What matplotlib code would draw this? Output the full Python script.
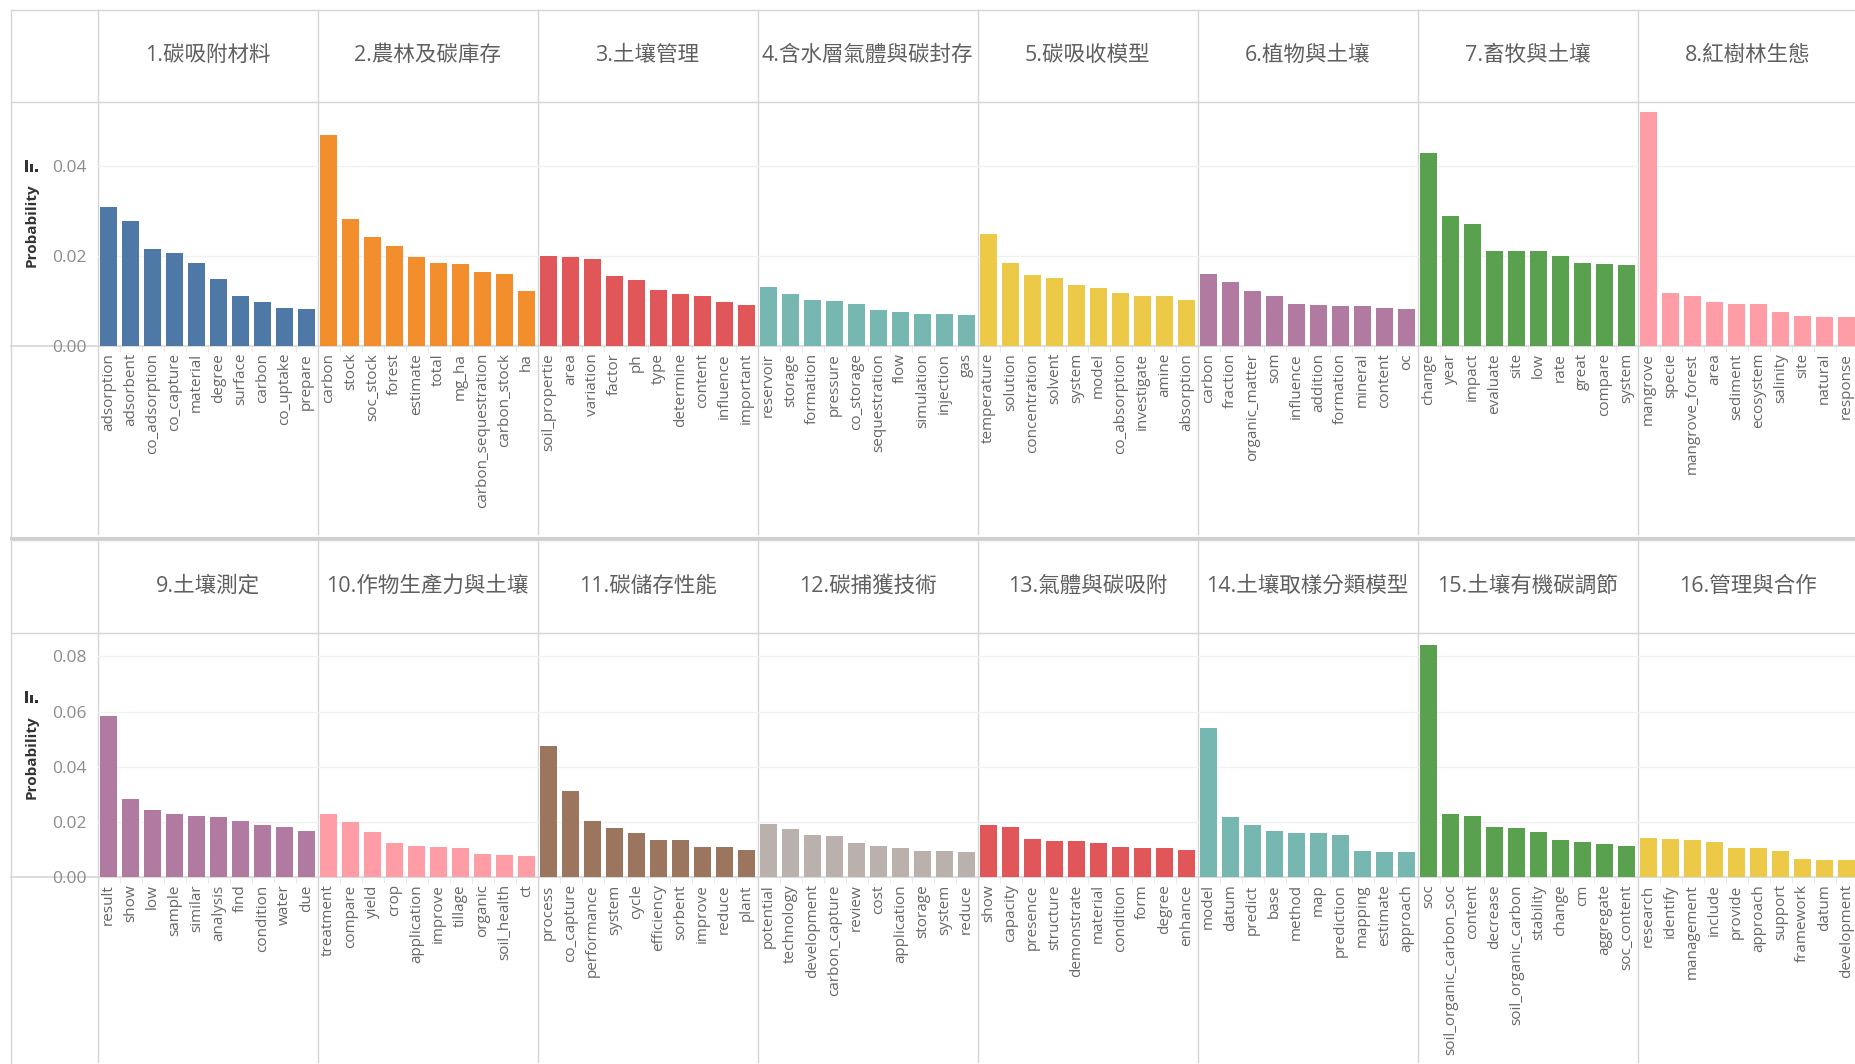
import matplotlib
matplotlib.use("Agg")
import matplotlib.pyplot as plt
from matplotlib.lines import Line2D
from matplotlib.patches import Rectangle

plt.rcParams['font.family'] = ['Open Sans', 'Noto Sans CJK TC', 'DejaVu Sans']

# ---- data ----
topic_titles = [
    "1.碳吸附材料", "2.農林及碳庫存", "3.土壤管理", "4.含水層氣體與碳封存",
    "5.碳吸收模型", "6.植物與土壤", "7.畜牧與土壤", "8.紅樹林生態",
    "9.土壤測定", "10.作物生產力與土壤", "11.碳儲存性能", "12.碳捕獲技術",
    "13.氣體與碳吸附", "14.土壤取樣分類模型", "15.土壤有機碳調節", "16.管理與合作",
]

topic_words = [
    ["adsorption", "adsorbent", "co_adsorption", "co_capture", "material",
     "degree", "surface", "carbon", "co_uptake", "prepare"],
    ["carbon", "stock", "soc_stock", "forest", "estimate",
     "total", "mg_ha", "carbon_sequestration", "carbon_stock", "ha"],
    ["soil_propertie", "area", "variation", "factor", "ph",
     "type", "determine", "content", "influence", "important"],
    ["reservoir", "storage", "formation", "pressure", "co_storage",
     "sequestration", "flow", "simulation", "injection", "gas"],
    ["temperature", "solution", "concentration", "solvent", "system",
     "model", "co_absorption", "investigate", "amine", "absorption"],
    ["carbon", "fraction", "organic_matter", "som", "influence",
     "addition", "formation", "mineral", "content", "oc"],
    ["change", "year", "impact", "evaluate", "site",
     "low", "rate", "great", "compare", "system"],
    ["mangrove", "specie", "mangrove_forest", "area", "sediment",
     "ecosystem", "salinity", "site", "natural", "response"],
    ["result", "show", "low", "sample", "similar",
     "analysis", "find", "condition", "water", "due"],
    ["treatment", "compare", "yield", "crop", "application",
     "improve", "tillage", "organic", "soil_health", "ct"],
    ["process", "co_capture", "performance", "system", "cycle",
     "efficiency", "sorbent", "improve", "reduce", "plant"],
    ["potential", "technology", "development", "carbon_capture", "review",
     "cost", "application", "storage", "system", "reduce"],
    ["show", "capacity", "presence", "structure", "demonstrate",
     "material", "condition", "form", "degree", "enhance"],
    ["model", "datum", "predict", "base", "method",
     "map", "prediction", "mapping", "estimate", "approach"],
    ["soc", "soil_organic_carbon_soc", "content", "decrease", "soil_organic_carbon",
     "stability", "change", "cm", "aggregate", "soc_content"],
    ["research", "identify", "management", "include", "provide",
     "approach", "support", "framework", "datum", "development"],
]

topic_probs = [
    [0.0309, 0.0278, 0.0215, 0.0206, 0.0185, 0.0149, 0.0110, 0.0097, 0.0085, 0.0082],
    [0.0469, 0.0282, 0.0243, 0.0222, 0.0198, 0.0185, 0.0182, 0.0164, 0.0160, 0.0122],
    [0.0200, 0.0198, 0.0194, 0.0155, 0.0146, 0.0125, 0.0115, 0.0110, 0.0097, 0.0091],
    [0.0131, 0.0115, 0.0103, 0.0100, 0.0094, 0.0079, 0.0075, 0.0072, 0.0072, 0.0069],
    [0.0249, 0.0185, 0.0158, 0.0152, 0.0136, 0.0128, 0.0118, 0.0112, 0.0110, 0.0103],
    [0.0160, 0.0142, 0.0122, 0.0110, 0.0094, 0.0091, 0.0088, 0.0088, 0.0085, 0.0082],
    [0.0428, 0.0288, 0.0270, 0.0212, 0.0212, 0.0212, 0.0200, 0.0185, 0.0182, 0.0179],
    [0.0519, 0.0118, 0.0110, 0.0097, 0.0094, 0.0094, 0.0075, 0.0067, 0.0064, 0.0064],
    [0.0582, 0.0282, 0.0243, 0.0228, 0.0223, 0.0217, 0.0203, 0.0189, 0.0184, 0.0169],
    [0.0228, 0.0200, 0.0164, 0.0126, 0.0115, 0.0110, 0.0105, 0.0086, 0.0081, 0.0076],
    [0.0474, 0.0312, 0.0203, 0.0179, 0.0159, 0.0134, 0.0134, 0.0110, 0.0110, 0.0100],
    [0.0193, 0.0174, 0.0154, 0.0149, 0.0126, 0.0115, 0.0105, 0.0095, 0.0095, 0.0091],
    [0.0189, 0.0184, 0.0140, 0.0131, 0.0131, 0.0126, 0.0110, 0.0105, 0.0105, 0.0100],
    [0.0539, 0.0217, 0.0189, 0.0169, 0.0159, 0.0159, 0.0154, 0.0095, 0.0091, 0.0091],
    [0.0842, 0.0228, 0.0223, 0.0184, 0.0179, 0.0164, 0.0134, 0.0129, 0.0120, 0.0115],
    [0.0144, 0.0139, 0.0134, 0.0129, 0.0105, 0.0105, 0.0095, 0.0065, 0.0062, 0.0062],
]

row_yticks = [[0.00, 0.02, 0.04], [0.00, 0.02, 0.04, 0.06, 0.08]]
row_ylims = [0.0542, 0.0884]

# ---- styling ----
panel_colors = [
    "#4E79A7", "#F28E2B", "#E15759", "#76B7B2", "#EDC948", "#B07AA1", "#59A14F", "#FF9DA7",
    "#B07AA1", "#FF9DA7", "#9C755F", "#BAB0AC", "#E15759", "#76B7B2", "#59A14F", "#EDC948",
]
W, H = 1855, 1064
LINE = "#d6d6d6"

# pixel layout: (header top, header bottom / plot top, baseline, row bottom)
rows = [(9.5, 102.0, 346.0, 535.5), (539.5, 633.0, 877.4, 1064.0)]
X0, PW = 97.5, 220.0


def fx(x):
    return x / W


def fy(y):
    return 1 - y / H


def hline(fig, y, x0, x1, lw=1.0, color=LINE):
    fig.add_artist(Line2D([fx(x0), fx(x1)], [fy(y), fy(y)], color=color, lw=lw,
                          transform=fig.transFigure, zorder=0))


def vline(fig, x, y0, y1, lw=1.0, color=LINE):
    fig.add_artist(Line2D([fx(x), fx(x)], [fy(y0), fy(y1)], color=color, lw=lw,
                          transform=fig.transFigure, zorder=0))


fig = plt.figure(figsize=(W / 100, H / 100), dpi=100)

for r, (ht, pt, base, rb) in enumerate(rows):
    # grid frame
    hline(fig, ht, 10.5, W)
    hline(fig, pt, 10.5, W)
    hline(fig, base, 10.5, W, lw=1.2)
    vline(fig, 10.5, ht, rb)
    for k in range(9):
        vline(fig, X0 + PW * k, ht, rb - 2)

    for c in range(8):
        i = r * 8 + c
        x_left = X0 + PW * c
        ax = fig.add_axes([fx(x_left), fy(base), PW / W, (base - pt) / H])
        ax.set_facecolor("none")
        ax.bar(range(10), topic_probs[i], width=0.75, color=panel_colors[i], zorder=2)
        ax.set_xlim(-0.5, 9.5)
        ax.set_ylim(0, row_ylims[r])
        for s in ax.spines.values():
            s.set_visible(False)
        ax.set_yticks(row_yticks[r])
        ax.yaxis.grid(True, color="#f1f1f1", lw=1.0, zorder=0)
        ax.set_axisbelow(True)
        ax.tick_params(axis="y", length=0, pad=8, labelsize=12.5, labelcolor="#8c8c8c")
        if c == 0:
            ax.set_yticklabels([f"{t:.2f}" for t in row_yticks[r]])
        else:
            ax.set_yticklabels([])
        ax.set_xticks(range(10))
        ax.set_xticklabels(topic_words[i], rotation=90, fontsize=11, color="#666666")
        ax.tick_params(axis="x", length=0, pad=5)
        ax.set_xticks([k + 0.5 for k in range(9)], minor=True)
        ax.tick_params(axis="x", which="minor", length=4, color="#e4e4e4")

        # facet header
        fig.text(fx(x_left + PW / 2), fy((ht + pt) / 2), topic_titles[i],
                 ha="center", va="center", fontsize=15.5, color="#5f5f5f")

    # y axis title and sort icon
    mid = pt + (base - pt) * 0.49
    fig.text(fx(32), fy(mid + 4), "Probability", rotation=90, ha="center", va="center",
             fontsize=11, fontweight="bold", color="#333333")
    icon_bottom = mid - 50
    for bx, bh in [(25, 12), (30, 8), (35, 3)]:
        fig.add_artist(Rectangle((fx(bx), fy(icon_bottom)), 3 / W, bh / H,
                                 transform=fig.transFigure, color="#333333", lw=0))

# thick separator between rows
hline(fig, 537.5, 10.5, W, lw=2.2, color="#d0d0d0")

fig.savefig("out.png", dpi=100)
